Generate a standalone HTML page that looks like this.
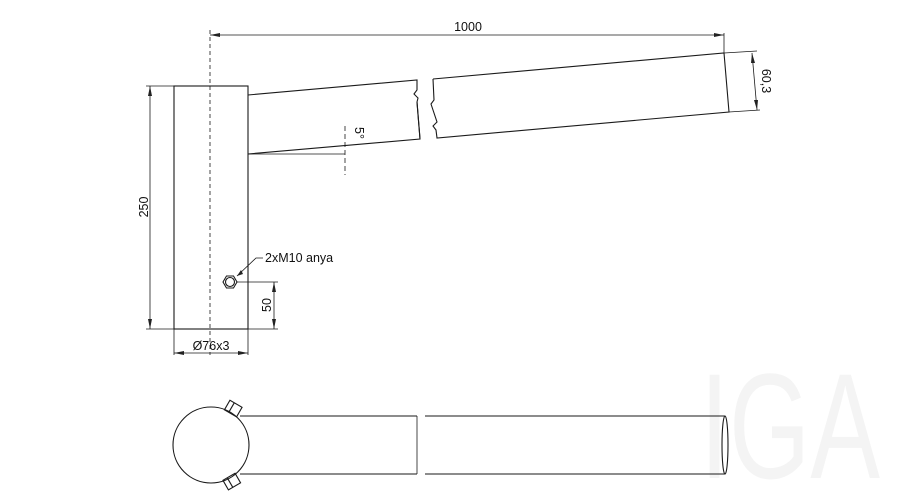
<!DOCTYPE html>
<html><head><meta charset="utf-8"><style>body{margin:0;background:#fff}svg{display:block}text{font-family:"Liberation Sans",sans-serif;font-size:12.5px;fill:#111}</style></head>
<body><svg width="900" height="500" viewBox="0 0 900 500" xmlns="http://www.w3.org/2000/svg">
<text x="700" y="478" style="font-size:150px;fill:#f4f4f4;font-family:'Liberation Sans',sans-serif" textLength="180" lengthAdjust="spacingAndGlyphs">IGA</text>
<g fill="none" stroke="#1a1a1a" stroke-width="1.1">
<rect x="174" y="86" width="74" height="243"/>
<line x1="210" y1="30" x2="210" y2="355" stroke-dasharray="4,3" stroke-width="0.8"/>
<line x1="210" y1="35" x2="724" y2="35" stroke-width="0.8"/>
<line x1="724" y1="33" x2="724" y2="53" stroke-width="0.8"/>
<polyline points="248,95 417,80 417,90 414,94 418,98 417,102 420,139 248,154"/>
<line x1="417" y1="102" x2="420" y2="139"/>
<polyline points="433,79 724,53 729,112 437,138 436,130 433,126 437,122 433,110 431,104 434,100 433,79"/>
<line x1="150" y1="86" x2="150" y2="329" stroke-width="0.8"/>
<line x1="146" y1="86" x2="174" y2="86" stroke-width="0.8"/>
<line x1="146" y1="329" x2="174" y2="329" stroke-width="0.8"/>
<line x1="174" y1="329" x2="174" y2="355" stroke-width="0.8"/>
<line x1="248" y1="329" x2="248" y2="355" stroke-width="0.8"/>
<line x1="174" y1="353" x2="248" y2="353" stroke-width="0.8"/>
<line x1="248" y1="329" x2="278" y2="329" stroke-width="0.8"/>
<line x1="237" y1="282" x2="278" y2="282" stroke-width="0.8"/>
<line x1="274" y1="282" x2="274" y2="329" stroke-width="0.8"/>
<line x1="724" y1="53" x2="757" y2="51" stroke-width="0.8"/>
<line x1="729" y1="112" x2="760" y2="110" stroke-width="0.8"/>
<line x1="752" y1="53" x2="757" y2="110" stroke-width="0.8"/>
<line x1="345" y1="126" x2="345" y2="175" stroke-dasharray="5,3" stroke-width="0.8"/>
<line x1="248" y1="154" x2="345" y2="154" stroke-width="0.8"/>
<polygon points="223,282 226.5,276 233.5,276 237,282 233.5,288 226.5,288"/>
<circle cx="230" cy="282" r="4.5"/>
<polyline points="237,276 256,258 263,258" stroke-width="0.8"/>
<circle cx="211" cy="445" r="38"/>
<line x1="240" y1="416" x2="417" y2="416"/><line x1="240" y1="474" x2="417" y2="474"/>
<line x1="417" y1="416" x2="417" y2="474" stroke-width="0.8"/>
<line x1="425" y1="416" x2="725" y2="416"/><line x1="425" y1="474" x2="725" y2="474"/>
<ellipse cx="725" cy="445" rx="3" ry="29"/>
<g transform="rotate(30 233 409)"><rect x="226" y="403" width="14" height="11"/><line x1="231" y1="403" x2="231" y2="414"/></g>
<g transform="rotate(-30 232 482)"><rect x="225" y="476" width="14" height="11"/><line x1="230" y1="476" x2="230" y2="487"/></g>
</g>
<g fill="#222">
<polygon points="210,35 220,33 220,37"/><polygon points="724,35 714,33 714,37"/>
<polygon points="150,86 148,96 152,96"/><polygon points="150,329 148,319 152,319"/>
<polygon points="174,353 184,351 184,355"/><polygon points="248,353 238,351 238,355"/>
<polygon points="274,282 272,292 276,292"/><polygon points="274,329 272,319 276,319"/>
<polygon points="752,53 751,63 755,63"/><polygon points="757,110 754,100 758,100"/>
<polygon points="237,276 241,270 243,274"/>
</g>
<text x="468" y="31" text-anchor="middle">1000</text>
<text transform="translate(148,207) rotate(-90)" text-anchor="middle">250</text>
<text transform="translate(271,305) rotate(-90)" text-anchor="middle">50</text>
<text transform="translate(762,81) rotate(90)" text-anchor="middle">60,3</text>
<text transform="translate(355,133) rotate(90)" text-anchor="middle">5°</text>
<text x="265" y="262">2xM10 anya</text>
<text x="211" y="350" text-anchor="middle">Ø76x3</text>
</svg></body></html>
